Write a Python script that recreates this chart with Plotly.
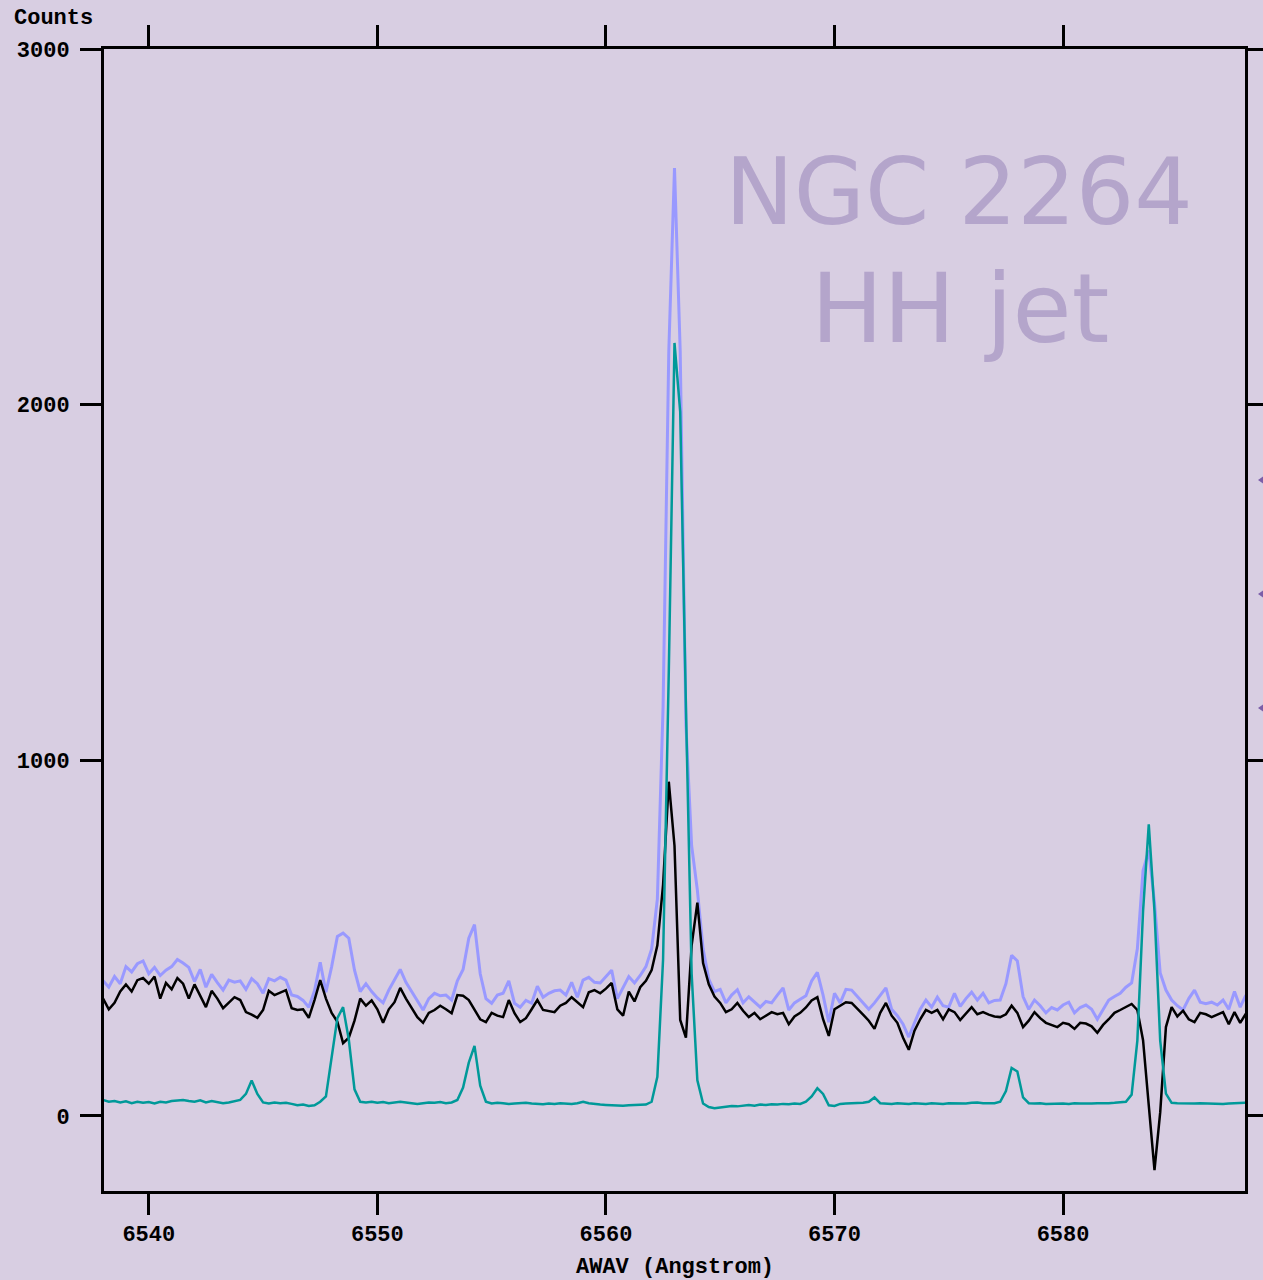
import numpy as np
import plotly.graph_objects as go

# Spectral axis: linear wavelength grid (Angstrom, air)
WAVE_START = 6538.0
WAVE_STEP = 0.25

# Jet spectrum (lavender)
flux_jet = [
    380, 362, 392, 372, 420, 405, 428, 436, 400, 418, 395, 410, 420, 440, 430, 418,
    378, 412, 362, 398, 375, 354, 382, 376, 380, 356, 386, 372, 345, 386, 380, 390,
    382, 340, 336, 325, 306, 352, 432, 348, 420, 505, 514, 500, 410, 350, 372, 350,
    332, 318, 354, 384, 412,
    376, 350, 322, 298, 330, 345, 338, 340, 326, 380, 412, 500, 538, 400, 330, 317,
    340, 345, 380, 317, 306, 325, 317, 365, 334, 345, 352, 354, 340, 376, 334, 382,
    390, 376, 374,
    392, 410, 330, 360, 392, 374, 395, 420, 470, 610, 1150, 2150, 2666, 2150, 1100,
    760, 635, 470, 385,
    350, 356, 318, 340, 355, 318, 335, 320, 306, 322, 318, 340, 360, 298, 318, 328,
    338, 380, 404, 340, 264, 345, 318, 356,
    354, 336, 318, 300, 318, 340, 360, 300, 282, 258, 222, 262, 300, 326, 306, 334,
    310, 306, 345, 308, 330, 348, 326, 345, 318, 325, 326, 372, 452, 436, 336, 300,
    326, 310, 290, 305, 298, 312, 320, 290, 305, 312, 300, 272, 298, 326, 336, 345,
    362, 374, 470, 690, 747, 600, 402, 354, 326, 310, 298, 330, 354, 320, 316, 320,
    312, 326, 300, 350, 306, 340,
]

# Continuum-subtracted residual spectrum (black)
flux_residual = [
    330, 300, 318, 350, 370, 350, 382, 388, 372, 392, 330, 374, 356, 388, 372, 330,
    370, 340, 306, 352, 330, 303, 320, 334, 326, 292, 285, 276, 298, 352, 340, 348,
    354, 303, 298, 300, 276, 326, 382, 330, 290, 265, 205, 220, 268, 330, 310, 325,
    300, 262, 300, 320, 360,
    330, 305, 278, 262, 290, 298, 310, 300, 289, 340, 338, 326, 300, 272, 264, 290,
    282, 278, 326, 289, 264, 275, 300, 326, 298, 295, 292, 310, 318, 334, 320, 306,
    348, 354, 345,
    358, 374, 300, 282, 350, 322, 362, 380, 410, 480, 650, 940, 760, 270, 220,
    480, 600, 430, 370,
    336, 318, 292, 300, 318, 296, 278, 290, 272, 282, 292, 286, 290, 258, 280, 290,
    305, 325, 334, 272, 225, 300, 310, 320,
    318, 300, 285, 268, 245, 290, 318, 282, 262, 220, 186, 240, 272, 298, 290, 298,
    272, 300, 292, 270, 288, 306, 286, 292, 285, 280, 278, 286, 310, 290, 250, 268,
    292, 275, 262, 255, 250, 262, 258, 245, 262, 260, 252, 234, 256, 272, 290, 298,
    306, 315, 298, 213, 30, -152, 10, 250, 306, 280, 296, 272, 264, 290, 286, 278,
    285, 292, 258, 292, 262, 288,
]

# Nebular emission-line spectrum (teal)
flux_nebula = [
    45, 40, 42, 38, 41, 36, 40, 37, 39, 35, 40, 38, 42, 43, 45, 42,
    40, 44, 38, 42, 40, 36, 38, 41, 45, 62, 100, 62, 38, 35, 38, 36,
    37, 34, 30, 32, 28, 30, 40, 55, 160, 275, 306, 215, 75, 40, 38, 40,
    37, 39, 36, 38, 40,
    38, 36, 34, 36, 38, 37, 39, 36, 38, 45, 80, 150, 197, 85, 40, 35,
    37, 36, 34, 35, 36, 37, 35, 34, 33, 35, 34, 36, 35, 34, 36, 40,
    36, 33, 32,
    31, 30, 31, 29, 30, 31, 30, 32, 40, 110, 440, 1250, 2174, 1980, 1150,
    400, 100, 35, 25,
    22, 24, 26, 28, 27, 30, 31, 29, 32, 31, 33, 32, 34, 33, 35, 34,
    40, 55, 78, 62, 30, 28, 34, 35,
    36, 35, 37, 40, 52, 36, 35, 34, 36, 35, 34, 36, 35, 34, 36, 35,
    34, 36, 35, 36, 35, 37, 38, 36, 35, 36, 40, 70, 135, 125, 52, 36,
    35, 36, 34, 35, 36, 35, 34, 36, 35, 34, 35, 36, 35, 36, 37, 38,
    40, 60, 212, 576, 820, 576, 212, 63, 37, 36, 35, 36, 35, 36, 35, 36,
    35, 34, 35, 36, 37, 37,
]

x_ticks = [6540, 6550, 6560, 6570, 6580]
y_ticks = [0, 1000, 2000, 3000]

wavelength = WAVE_START + WAVE_STEP * np.arange(len(flux_jet))

BG = "#D8CEE2"
AXIS_FONT = dict(family="Liberation Mono", size=22, color="black", weight="bold")
TITLE_FONT = dict(family="DejaVu Sans", size=92, color="#B4A5CB")

fig = go.Figure()
fig.add_trace(go.Scatter(x=wavelength, y=flux_jet, mode="lines",
                         line=dict(color="#9999FF", width=3), showlegend=False))
fig.add_trace(go.Scatter(x=wavelength, y=flux_residual, mode="lines",
                         line=dict(color="black", width=2.5), showlegend=False))
fig.add_trace(go.Scatter(x=wavelength, y=flux_nebula, mode="lines",
                         line=dict(color="#009999", width=2.5), showlegend=False))

axis_style = dict(
    showline=True, linecolor="black", linewidth=3, mirror="ticks",
    ticks="outside", ticklen=21, tickwidth=3, tickcolor="black",
    showgrid=False, zeroline=False, tickfont=AXIS_FONT, automargin=False,
)

fig.update_layout(
    width=1263, height=1280,
    margin=dict(l=104, r=18, t=49, b=89, pad=0),
    paper_bgcolor=BG, plot_bgcolor=BG,
    xaxis=dict(range=[6538.04, 6587.96], tickvals=x_ticks, **axis_style),
    yaxis=dict(range=[-211, 3000.5], tickvals=y_ticks, ticklabelstandoff=6, **axis_style),
    annotations=[
        dict(text="Counts", xref="paper", yref="paper", x=-0.0806, y=1.0271,
             xanchor="left", yanchor="middle", showarrow=False, font=AXIS_FONT),
        dict(text="AWAV (Angstrom)", xref="paper", yref="paper", x=0.5, y=-0.0674,
             xanchor="center", yanchor="middle", showarrow=False, font=AXIS_FONT),
        dict(text="NGC 2264", xref="paper", yref="paper", x=0.7493, y=0.8744,
             xanchor="center", yanchor="middle", showarrow=False, font=TITLE_FONT),
        dict(text="HH jet", xref="paper", yref="paper", x=0.7502, y=0.7725,
             xanchor="center", yanchor="middle", showarrow=False,
             font=dict(family="DejaVu Sans", size=96, color="#B4A5CB")),
    ],
    shapes=[
        dict(type="path", xref="paper", yref="paper", xsizemode="pixel", ysizemode="pixel",
             xanchor=1, yanchor=ya, path="M 13 0 L 20 5 L 27 0 L 20 -5 Z",
             fillcolor="#7B5EA8", line=dict(width=0))
        for ya in (0.6226, 0.5228, 0.4229)
    ],
)

fig.write_html("out.html")
